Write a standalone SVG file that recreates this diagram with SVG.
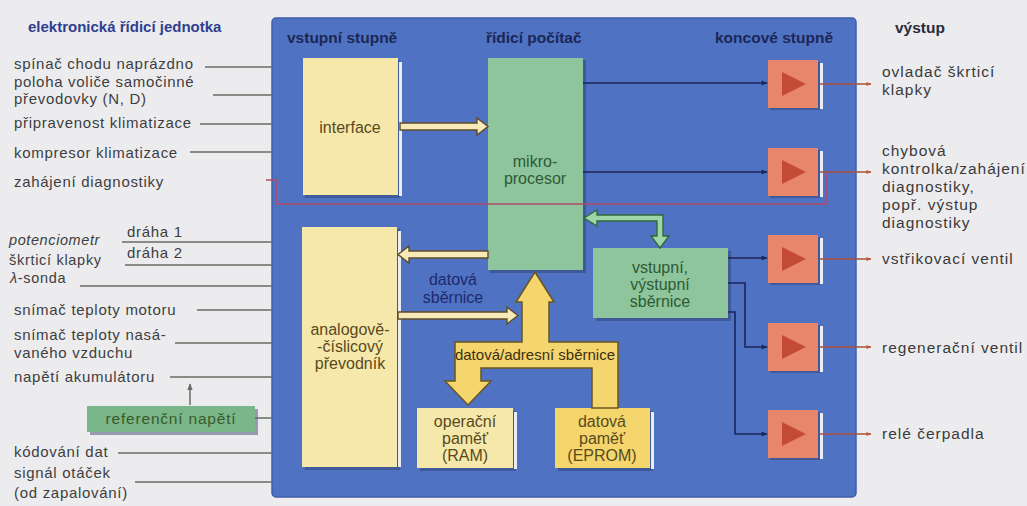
<svg xmlns="http://www.w3.org/2000/svg" width="1027" height="506" viewBox="0 0 1027 506">
<style>
text{font-family:"Liberation Sans",Arial,sans-serif}
.lbl{font-size:15px;fill:#3e3e3e;letter-spacing:0.7px}
.it{font-size:14.5px;fill:#3e3e3e;font-style:italic;letter-spacing:0.6px}
.out{font-size:15.5px;fill:#3a3a3a;letter-spacing:1px}
.hd{font-size:15.5px;font-weight:bold;fill:#1c2756}
.in{font-size:16px;text-anchor:middle}
.ln{stroke:#666c66;stroke-width:1.5;fill:none}
.sig{stroke:#1b2558;stroke-width:1.6;fill:none;marker-end:url(#ah)}
.o{stroke:#a8503a;stroke-width:1.6;fill:none;marker-end:url(#ao)}
.sh{fill:#2c3c68;opacity:.45}
.hl{fill:#e9edf5}
.yel{fill:#f6e8aa}
.grn{fill:#8fc59c}
.red{fill:#e8866c}
.tri{fill:#c34a34}
</style>
<defs>
<marker id="ah" viewBox="0 0 10 10" refX="9" refY="5" markerWidth="7" markerHeight="6" orient="auto" markerUnits="userSpaceOnUse"><path d="M0,1 L10,5 L0,9 z" fill="#1b2558"/></marker>
<marker id="ao" viewBox="0 0 10 10" refX="9" refY="5" markerWidth="8" markerHeight="5" orient="auto" markerUnits="userSpaceOnUse"><path d="M0,1 L10,5 L0,9 z" fill="#b85a3c"/></marker>
<marker id="ag" viewBox="0 0 10 10" refX="9" refY="5" markerWidth="7" markerHeight="7" orient="auto" markerUnits="userSpaceOnUse"><path d="M0,1 L10,5 L0,9 z" fill="#666c66"/></marker>
</defs>
<rect width="1027" height="506" fill="#ececef"/>
<rect x="272" y="18" width="584" height="479" rx="4" fill="#4f72c3" stroke="#3f5eaa" stroke-width="1.5"/>

<g id="headers">
<text class="hd" x="28" y="32" style="fill:#2f3f8e;font-size:15px">elektronická řídicí jednotka</text>
<text class="hd" x="287" y="43">vstupní stupně</text>
<text class="hd" x="486" y="43">řídicí počítač</text>
<text class="hd" x="715" y="43">koncové stupně</text>
<text class="hd" x="895" y="33" style="fill:#2a2a3a">výstup</text>
</g>

<g id="inputs">
<text class="lbl" x="14" y="69">spínač chodu naprázdno</text>
<text class="lbl" x="14" y="86.5">poloha voliče samočinné</text>
<text class="lbl" x="14" y="104">převodovky (N, D)</text>
<text class="lbl" x="14" y="128">připravenost klimatizace</text>
<text class="lbl" x="14" y="158">kompresor klimatizace</text>
<text class="lbl" x="14" y="187">zahájení diagnostiky</text>
<text class="lbl" x="127" y="237">dráha 1</text>
<text class="lbl" x="127" y="258">dráha 2</text>
<text class="it" x="9" y="245">potenciometr</text>
<text class="lbl" x="9" y="265" style="font-size:14.5px">škrticí klapky</text>
<text class="lbl" x="10" y="283" style="font-size:14.5px"><tspan font-style="italic">λ</tspan>-sonda</text>
<text class="lbl" x="14" y="315">snímač teploty motoru</text>
<text class="lbl" x="14" y="340">snímač teploty nasá-</text>
<text class="lbl" x="14" y="358">vaného vzduchu</text>
<text class="lbl" x="14" y="382">napětí akumulátoru</text>
<text class="lbl" x="14" y="457">kódování dat</text>
<text class="lbl" x="14" y="478">signál otáček</text>
<text class="lbl" x="14" y="498">(od zapalování)</text>
</g>

<g id="ref-napeti">
<rect class="sh" x="90" y="409" width="168" height="26"/>
<rect x="87" y="406" width="168" height="26" fill="#79b688"/>
<text x="171" y="424" text-anchor="middle" style="font-size:15.5px;fill:#3a5a2c;letter-spacing:0.8px">referenční napětí</text>
</g>

<g id="interface">
<rect class="sh" x="305" y="60" width="95" height="138"/>
<rect class="hl" x="399" y="62" width="3" height="134"/>
<rect class="yel" x="303" y="58" width="95" height="137"/>
<text class="in" x="350" y="133" fill="#5a4a20">interface</text>
</g>

<g id="adc">
<rect class="sh" x="305" y="229" width="95" height="241"/>
<rect class="hl" x="398" y="231" width="3" height="236"/>
<rect class="yel" x="302" y="227" width="95" height="240"/>
<text class="in" x="350" y="335" fill="#5a4a20">analogově-</text>
<text class="in" x="350" y="352" fill="#5a4a20">-číslicový</text>
<text class="in" x="350" y="369" fill="#5a4a20">převodník</text>
</g>

<g id="mikroprocesor">
<rect class="sh" x="490" y="60" width="96" height="213"/>
<rect class="grn" x="488" y="58" width="95" height="212"/>
<text class="in" x="535" y="167" fill="#2d5a36">mikro-</text>
<text class="in" x="535" y="184" fill="#2d5a36">procesor</text>
</g>

<g id="io-sbernice">
<rect class="sh" x="596" y="251" width="135" height="70"/>
<rect class="grn" x="593" y="248" width="135" height="70"/>
<text class="in" x="660" y="273" fill="#2d5a36">vstupní,</text>
<text class="in" x="660" y="290" fill="#2d5a36">výstupní</text>
<text class="in" x="660" y="307" fill="#2d5a36">sběrnice</text>
</g>

<g id="ram">
<rect class="sh" x="420" y="411" width="96" height="60"/>
<rect class="hl" x="514" y="412" width="3" height="57"/>
<rect class="yel" x="417" y="408" width="96" height="60"/>
<text class="in" x="465" y="427" fill="#5a4a20">operační</text>
<text class="in" x="465" y="444" fill="#5a4a20">paměť</text>
<text class="in" x="465" y="461" fill="#5a4a20">(RAM)</text>
</g>

<g id="eprom">
<rect class="sh" x="558" y="411" width="95" height="60"/>
<rect class="hl" x="651" y="412" width="3" height="57"/>
<rect x="555" y="408" width="95" height="60" fill="#f4d66c"/>
<text class="in" x="602" y="427" fill="#5a4a20">datová</text>
<text class="in" x="602" y="444" fill="#5a4a20">paměť</text>
<text class="in" x="602" y="461" fill="#5a4a20">(EPROM)</text>
</g>

<g id="vystup1">
<rect class="sh" x="770" y="62" width="50" height="48"/>
<rect class="hl" x="820" y="63" width="3" height="46"/>
<rect class="red" x="768" y="60" width="50" height="48"/>
<polygon class="tri" points="782,72 782,96 806,84"/>
</g>
<g id="vystup2">
<rect class="sh" x="770" y="150" width="50" height="48"/>
<rect class="hl" x="820" y="151" width="3" height="46"/>
<rect class="red" x="768" y="148" width="50" height="48"/>
<polygon class="tri" points="782,160 782,184 806,172"/>
</g>
<g id="vystup3">
<rect class="sh" x="770" y="237" width="50" height="48"/>
<rect class="hl" x="820" y="238" width="3" height="46"/>
<rect class="red" x="768" y="235" width="50" height="48"/>
<polygon class="tri" points="782,247 782,271 806,259"/>
</g>
<g id="vystup4">
<rect class="sh" x="770" y="325" width="50" height="48"/>
<rect class="hl" x="820" y="326" width="3" height="46"/>
<rect class="red" x="768" y="323" width="50" height="48"/>
<polygon class="tri" points="782,335 782,359 806,347"/>
</g>
<g id="vystup5">
<rect class="sh" x="770" y="412" width="50" height="48"/>
<rect class="hl" x="820" y="413" width="3" height="46"/>
<rect class="red" x="768" y="410" width="50" height="48"/>
<polygon class="tri" points="782,422 782,446 806,434"/>
</g>

<g id="outputs">
<text class="out" x="882" y="77">ovladač škrticí</text>
<text class="out" x="882" y="95">klapky</text>
<text class="out" x="882" y="156">chybová</text>
<text class="out" x="882" y="174">kontrolka/zahájení</text>
<text class="out" x="882" y="192">diagnostiky,</text>
<text class="out" x="882" y="210">popř. výstup</text>
<text class="out" x="882" y="228">diagnostiky</text>
<text class="out" x="882" y="264">vstřikovací ventil</text>
<text class="out" x="882" y="353">regenerační ventil</text>
<text class="out" x="882" y="439">relé čerpadla</text>
</g>

<g id="connectors">
<path class="ln" d="M205 67H272M213 95H272M200 124H272M190 152H272"/>
<path class="ln" d="M122 242H272M125 265H272M80 286H272M197 310H272M175 343H272M170 377H272M255 418H272M118 453H272M135 482H272"/>
<path class="ln" d="M190 405V384" marker-end="url(#ag)"/>
<path d="M266 180H276V204H826V172" fill="none" stroke="#b5486a" stroke-width="1.6"/>
<polygon points="400,123 477,123 477,118 488,126.5 477,135 477,130 400,130" fill="#f6eab8" stroke="#5f4c28" stroke-width="1.4"/>
<polygon points="488,251 409,251 409,246 398,254.5 409,263 409,258 488,258" fill="#f6eab8" stroke="#5f4c28" stroke-width="1.4"/>
<polygon points="398,312 507,312 507,307 518,315.5 507,324 507,319 398,319" fill="#f6eab8" stroke="#5f4c28" stroke-width="1.4"/>
<polygon points="535,272 554,302 549,302 549,342 618,342 618,408 592,408 592,368 481,368 481,381 491,381 468,405 445,381 455,381 455,342 522,342 522,302 516,302" fill="#f4d56e" stroke="#6a5520" stroke-width="1.5"/>
<text x="535" y="360" text-anchor="middle" style="font-size:15px;fill:#3d3010">datová/adresní sběrnice</text>
<text x="453" y="285" text-anchor="middle" style="font-size:16px;fill:#1d2a6b">datová</text>
<text x="453" y="303" text-anchor="middle" style="font-size:16px;fill:#1d2a6b">sběrnice</text>
<polygon points="584,218 597,210 597,215 663,215 663,236 669,236 660,248 651,236 657,236 657,221 597,221 597,226" fill="#9fd6a8" stroke="#2f6a3a" stroke-width="1.4"/>
<path class="sig" d="M583 83H767"/>
<path class="sig" d="M583 172H767"/>
<path class="sig" d="M728 258H767"/>
<path class="sig" d="M728 283H745V347H767"/>
<path class="sig" d="M728 312H735V434H767"/>
<path class="o" d="M820 84H871"/>
<path class="o" d="M820 172H871"/>
<path class="o" d="M820 259H871"/>
<path class="o" d="M820 347H871"/>
<path class="o" d="M820 434H871"/>
</g>
</svg>
